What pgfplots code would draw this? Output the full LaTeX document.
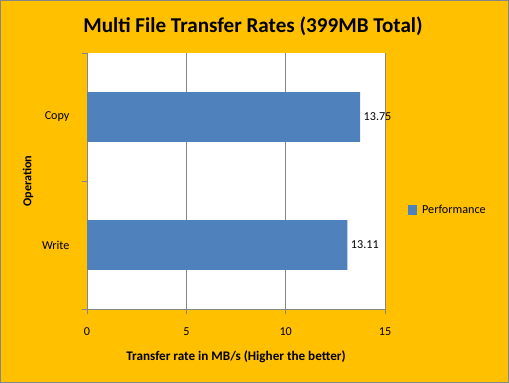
\documentclass[border=0pt]{standalone}
\usepackage{pgfplots}
\pgfplotsset{compat=1.18}
\usepackage{fontspec}
\setmainfont{Carlito}
\definecolor{bg}{HTML}{FFC000}
\definecolor{barc}{HTML}{4F81BD}
\definecolor{gridc}{HTML}{868686}
\begin{document}
\begin{tikzpicture}
\fill[bg] (0,0) rectangle (509bp,383bp);
\draw[gridc, line width=1bp] (0.5bp,0.5bp) rectangle (508.5bp,382.5bp);
\begin{axis}[
  at={(87bp,74bp)}, anchor=south west,
  scale only axis, width=298bp, height=256bp,
  xbar, bar width=0.39,
  xmin=0, xmax=15, ymin=-0.5, ymax=1.5,
  xtick={0,5,10,15},
  ytick={0,1}, yticklabels={Write,Copy},
  /pgf/number format/assume math mode=true,
  axis x line*=bottom, axis y line*=left,
  axis line style={gridc, line width=0.8bp, -},
  xmajorgrids, major grid style={gridc, line width=0.8bp},
  tick align=outside,
  major tick length=5bp,
  x tick style={gridc, line width=0.8bp},
  y tick style={draw=none},
  extra y ticks={-0.5,0.5,1.5}, extra y tick labels={},
  extra y tick style={grid=none, y tick style={draw=gridc, line width=0.8bp}},
  axis background/.style={fill=white},
  tick label style={font=\fontsize{12.2}{15}\selectfont},
  xticklabel style={yshift=-10bp},
  yticklabel style={xshift=-9bp},
  xlabel={Transfer rate in MB/s (Higher the better)},
  ylabel={Operation},
  label style={font=\bfseries\fontsize{12.2}{15}\selectfont},
  xlabel style={at={(axis description cs:0.5,0)}, anchor=center, yshift=-48bp, font=\bfseries\fontsize{13.2}{16}\selectfont},
  ylabel style={at={(axis description cs:0,0.5)}, anchor=center, yshift=59bp},
  nodes near coords,
  nodes near coords style={font=\fontsize{12.2}{15}\selectfont, black, anchor=west, xshift=0bp},
  point meta=explicit symbolic,
  legend style={at={(1,0.5)}, anchor=west, xshift=20bp, yshift=-29bp, draw=none, fill=none,
    font=\fontsize{12.2}{15}\selectfont},
  legend image code/.code={\fill[barc] (0bp,-4.5bp) rectangle (9bp,4.5bp); \path (12bp,0);},
]
\addplot[fill=barc, draw=none] coordinates {(13.11,0) [13.11] (13.75,1) [13.75]};
\addlegendentry{Performance}
\end{axis}
\node[font=\bfseries\fontsize{21.2}{25}\selectfont] at (253bp,357bp) {Multi File Transfer Rates (399MB Total)};
\end{tikzpicture}
\end{document}
